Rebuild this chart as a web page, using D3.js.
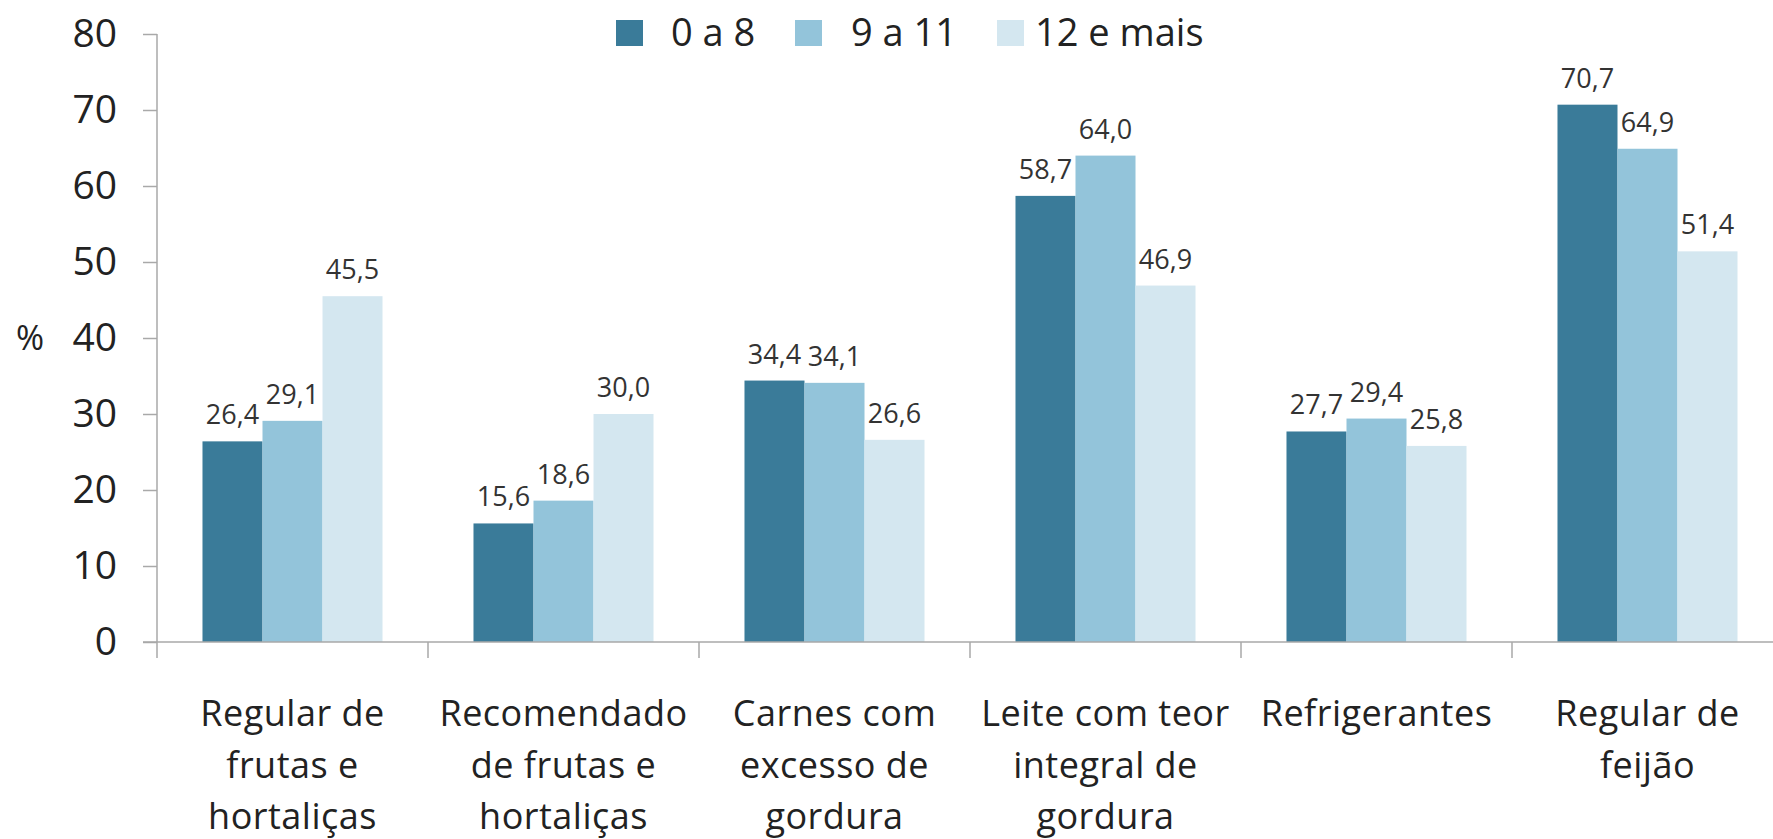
<!DOCTYPE html>
<html>
<head>
<meta charset="utf-8">
<script src="https://cdn.jsdelivr.net/npm/d3@7.9.0/dist/d3.min.js"></script>
<style>
  body { margin: 0; background: #fff; }
  svg { display: block; font-family: 'Open Sans', sans-serif; }
</style>
</head>
<body>
<svg id="chart" width="1773" height="839"></svg>
<script>
const categories = [
  ['Regular de', 'frutas e', 'hortaliças'],
  ['Recomendado', 'de frutas e', 'hortaliças'],
  ['Carnes com', 'excesso de', 'gordura'],
  ['Leite com teor', 'integral de', 'gordura'],
  ['Refrigerantes'],
  ['Regular de', 'feijão'],
];
const series = ['0 a 8', '9 a 11', '12 e mais'];
const values0a8 = [26.4, 15.6, 34.4, 58.7, 27.7, 70.7];
const values9a11 = [29.1, 18.6, 34.1, 64.0, 29.4, 64.9];
const values12mais = [45.5, 30.0, 26.6, 46.9, 25.8, 51.4];
const yTicks = [0, 10, 20, 30, 40, 50, 60, 70, 80];

const colors = d3.scaleOrdinal().domain(series).range(['#3a7b99', '#93c4da', '#d4e7f0']);
const ptBR = d3.formatLocale({ decimal: ',', thousands: '.', grouping: [3], currency: ['R$', ''] });
const fmt = ptBR.format('.1f');

const seriesValues = [values0a8, values9a11, values12mais];
const catIds = categories.map((c, i) => i);

const left = 157, zeroY = 642, topY = 34, band = 271;

const x0 = d3.scaleBand().domain(catIds).range([left, left + band * categories.length]);
const x1 = d3.scaleBand().domain(series).range([0, x0.bandwidth()]).paddingInner(0).paddingOuter(0.758);
const y = d3.scaleLinear().domain([0, 80]).range([zeroY, topY]);

const svg = d3.select('#chart');

// y axis
const yAxis = svg.append('g')
  .attr('transform', `translate(${left},0)`)
  .call(d3.axisLeft(y).tickValues(yTicks).tickSize(14).tickSizeOuter(0).tickPadding(26));
yAxis.select('.domain').remove();
yAxis.selectAll('.tick line').attr('stroke', '#a9a9a9').attr('stroke-width', 1.5);
yAxis.selectAll('.tick text')
  .attr('font-family', "'Open Sans', sans-serif")
  .attr('font-size', 39)
  .attr('fill', '#222');

svg.append('line')
  .attr('x1', left).attr('x2', left)
  .attr('y1', y(80)).attr('y2', zeroY + 16)
  .attr('stroke', '#a9a9a9').attr('stroke-width', 1.5);

svg.append('text')
  .attr('x', 30).attr('y', y(40))
  .attr('dy', '0.35em')
  .attr('text-anchor', 'middle')
  .attr('font-size', 34)
  .attr('fill', '#222')
  .text('%');

// bars
const groups = svg.append('g')
  .selectAll('g')
  .data(catIds)
  .join('g')
  .attr('transform', (d) => `translate(${x0(d)},0)`);

groups.selectAll('rect')
  .data((i) => series.map((s, k) => ({ s, v: seriesValues[k][i] })))
  .join('rect')
  .attr('x', (d) => x1(d.s))
  .attr('y', (d) => y(d.v))
  .attr('width', x1.bandwidth())
  .attr('height', (d) => zeroY - y(d.v))
  .attr('fill', (d) => colors(d.s));

groups.selectAll('text.val')
  .data((i) => series.map((s, k) => ({ s, v: seriesValues[k][i] })))
  .join('text')
  .attr('class', 'val')
  .attr('x', (d) => x1(d.s) + x1.bandwidth() / 2)
  .attr('y', (d) => y(d.v) - 17)
  .attr('text-anchor', 'middle')
  .attr('font-size', 27)
  .attr('fill', '#333')
  .text((d) => fmt(d.v));

// x axis
svg.append('line')
  .attr('x1', left - 14).attr('x2', 1773)
  .attr('y1', zeroY).attr('y2', zeroY)
  .attr('stroke', '#a9a9a9').attr('stroke-width', 1.5);

svg.append('g')
  .selectAll('line')
  .data(catIds.slice(1))
  .join('line')
  .attr('x1', (d) => x0(d)).attr('x2', (d) => x0(d))
  .attr('y1', zeroY).attr('y2', zeroY + 16)
  .attr('stroke', '#a9a9a9').attr('stroke-width', 1.5);

const labels = svg.append('g')
  .selectAll('text')
  .data(catIds)
  .join('text')
  .attr('x', (d) => x0(d) + x0.bandwidth() / 2)
  .attr('y', 726)
  .attr('text-anchor', 'middle')
  .attr('font-size', 36)
  .attr('letter-spacing', 0.5)
  .attr('fill', '#222');

labels.selectAll('tspan')
  .data((d) => categories[d])
  .join('tspan')
  .attr('x', function () { return d3.select(this.parentNode).attr('x'); })
  .attr('dy', (d, i) => (i === 0 ? 0 : 51.5))
  .text((d) => d);

// legend
const legendX = [616, 795, 997];
const legendTextX = [671, 851, 1035];
const legend = svg.append('g')
  .selectAll('g')
  .data(series)
  .join('g');

legend.append('rect')
  .attr('x', (d, i) => legendX[i])
  .attr('y', 20)
  .attr('width', 27)
  .attr('height', 26)
  .attr('fill', (d) => colors(d));

legend.append('text')
  .attr('x', (d, i) => legendTextX[i])
  .attr('y', 33)
  .attr('dy', '0.35em')
  .attr('font-size', 38)
  .attr('fill', '#222')
  .text((d) => d);
</script>
</body>
</html>
